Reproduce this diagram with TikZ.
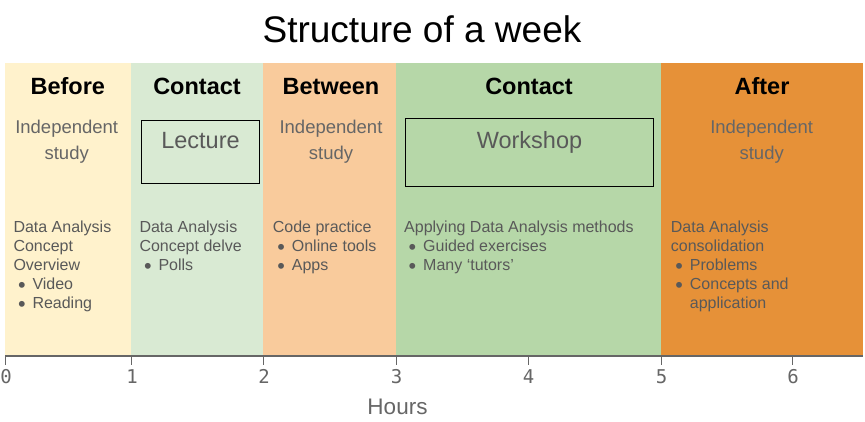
\documentclass[tikz,border=0pt]{standalone}
\usepackage{fontspec}
\setmainfont{Liberation Sans}
\newfontfamily\ticksfont{DejaVu Sans Mono}
\definecolor{bandA}{HTML}{FFF2CC}
\definecolor{bandB}{HTML}{D9EAD3}
\definecolor{bandC}{HTML}{F9CB9C}
\definecolor{bandD}{HTML}{B6D7A8}
\definecolor{bandE}{HTML}{E69138}
\definecolor{bodygray}{HTML}{595959}
\definecolor{softgray}{HTML}{666666}
\definecolor{axisgray}{HTML}{666666}
\newcommand{\bul}{\makebox[19pt][l]{\hspace{4.5pt}\smash{\raisebox{-2.6pt}{\scalebox{1.35}{\textbullet}}}}}
\newcommand{\bulgap}{\makebox[19pt]{}}
\tikzset{
  heading/.style={anchor=base, inner sep=0pt, font=\bfseries\fontsize{23.5}{28}\selectfont, text=black},
  study/.style={anchor=base, inner sep=0pt, font=\fontsize{18.5}{26}\selectfont, text=softgray},
  boxlabel/.style={anchor=base, inner sep=0pt, font=\fontsize{23.5}{28}\selectfont, text=bodygray},
  body/.style={anchor=north west, inner sep=0pt, align=left, font=\fontsize{16}{19}\selectfont, text=bodygray},
  frame/.style={draw=black, line width=0.9pt},
  ticklabel/.style={anchor=base, inner sep=0pt, font=\ticksfont\fontsize{19}{22}\selectfont, text=axisgray},
}
\begin{document}
\begin{tikzpicture}[x=1pt, y=-1pt]
\useasboundingbox (0,0) rectangle (865,422);
\fill[white] (0,0) rectangle (865,422);

% title
\node[anchor=base, inner sep=0pt, font=\fontsize{37}{44}\selectfont] (title) at (422,43) {Structure of a week};

% coloured time bands
\fill[bandA] (5.3,63) rectangle (131.3,355.5);
\fill[bandB] (131.3,63) rectangle (263.3,355.5);
\fill[bandC] (263.3,63) rectangle (396,355.5);
\fill[bandD] (396,63) rectangle (661,355.5);
\fill[bandE] (661,63) rectangle (862.5,355.5);

% band headings
\node[heading] (h1) at (67.8,95) {Before};
\node[heading] (h2) at (197,95) {Contact};
\node[heading] (h3) at (331,95) {Between};
\node[heading] (h4) at (529,95) {Contact};
\node[heading] (h5) at (762,95) {After};

% independent study labels
\node[study] (s1a) at (66.7,134) {Independent};
\node[study] (s1b) at (66.7,160) {study};
\node[study] (s3a) at (331,134) {Independent};
\node[study] (s3b) at (331,160) {study};
\node[study] (s5a) at (761.7,134) {Independent};
\node[study] (s5b) at (761.7,160) {study};

% contact session boxes
\draw[frame] (141.3,120.3) rectangle (259.7,183.3);
\node[boxlabel] (lecture) at (200.5,148.3) {Lecture};
\draw[frame] (405.3,118.3) rectangle (653.7,186.3);
\node[boxlabel] (workshop) at (529.5,148.3) {Workshop};

% activity descriptions
\node[body] (b1) at (13.3,220.8) {Data Analysis\\Concept\\Overview\\\bul Video\\\bul Reading};
\node[body] (b2) at (139.3,220.8) {Data Analysis\\Concept delve\\\bul Polls};
\node[body] (b3) at (272.7,220.8) {Code practice\\\bul Online tools\\\bul Apps};
\node[body] (b4) at (404,220.8) {Applying Data Analysis methods\\\bul Guided exercises\\\bul Many ‘tutors’};
\node[body] (b5) at (670.7,220.8) {Data Analysis\\consolidation\\\bul Problems\\\bul Concepts and\\\bulgap application};

% time axis
\draw[axisgray, line width=1.5pt] (5.3,356) -- (862.5,356);
\foreach \xp/\lab in {5.3/0, 131.3/1, 263.3/2, 396/3, 528/4, 661/5, 792.5/6} {
  \draw[axisgray, line width=0.9pt] (\xp,356) -- (\xp,365);
  \node[ticklabel] (tick\lab) at (\xp+0.7,383.3) {\lab};
}
\node[anchor=base, inner sep=0pt, font=\fontsize{22.5}{26}\selectfont, text=axisgray] (hours) at (397.5,414) {Hours};
\end{tikzpicture}
\end{document}
